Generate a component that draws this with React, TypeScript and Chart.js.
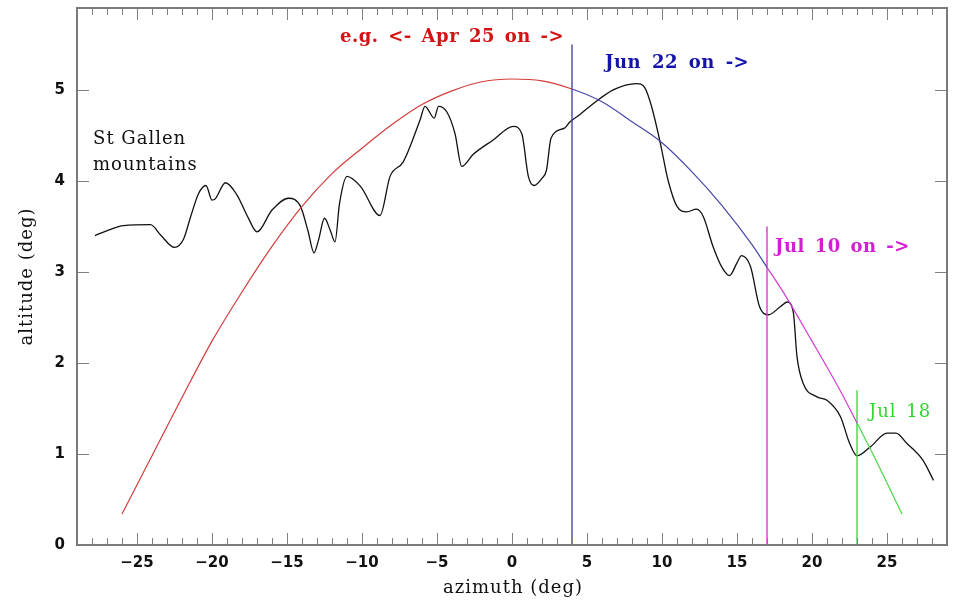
import React, { useEffect, useRef } from 'react';
import { Chart, registerables } from 'chart.js';

Chart.register(...registerables);

// Mountain horizon profile (azimuth deg, altitude deg)
const MOUNTAIN_AZ = [
  -27.8, -26.9, -25.9, -24.1, -23.4, -22.5, -21.9, -21.4, -20.9, -20.4, -20.0, -19.8, -19.1,
  -18.35, -17.6, -17.0, -16.0, -14.9, -14.1, -13.6, -13.2, -12.9, -12.5, -12.1, -11.8, -11.5,
  -11.0, -10.1, -8.8, -8.13, -7.25, -6.13, -5.8, -5.18, -4.9, -4.35, -3.8, -3.35, -2.6, -1.25,
  0.09, 0.65, 1.09, 1.47, 2.0, 2.3, 2.6, 3.5, 3.87, 4.53, 5.2, 6.75, 8.3, 8.87, 9.3, 9.87, 10.4,
  11.0, 11.65, 12.3, 12.75, 13.4, 14.0, 14.5, 15.0, 15.3, 15.9, 16.5, 17.1, 17.9, 18.35, 18.75,
  19.0, 19.4, 20.3, 21.0, 21.9, 22.5, 23.0, 23.9, 25.0, 25.6, 26.3, 27.4, 28.1,
];
const MOUNTAIN_ALT = [
  3.40, 3.46, 3.51, 3.52, 3.40, 3.27, 3.36, 3.62, 3.86, 3.95, 3.79, 3.80, 3.98,
  3.85, 3.60, 3.44, 3.68, 3.81, 3.72, 3.45, 3.21, 3.35, 3.59, 3.45, 3.33, 3.75,
  4.05, 3.94, 3.62, 4.05, 4.21, 4.67, 4.82, 4.69, 4.82, 4.76, 4.52, 4.16, 4.29, 4.45,
  4.60, 4.52, 4.05, 3.95, 4.03, 4.12, 4.47, 4.58, 4.65, 4.73, 4.82, 5.00, 5.07, 5.02, 4.82, 4.43, 4.01,
  3.72, 3.66, 3.69, 3.61, 3.28, 3.05, 2.96, 3.10, 3.18, 3.06, 2.62, 2.53, 2.62, 2.67, 2.56,
  2.07, 1.78, 1.63, 1.59, 1.41, 1.12, 0.98, 1.08, 1.23, 1.23, 1.12, 0.93, 0.71,
];

// Sun path (azimuth deg, altitude deg)
const SUN_AZ = [-26, -24, -22, -20, -18, -16, -14, -12, -10, -8, -6, -4, -2, 0, 2, 4, 6, 8, 10, 12, 14, 16, 17, 18, 20, 22, 23, 24, 26];
const SUN_ALT = [0.34, 0.98, 1.62, 2.24, 2.78, 3.28, 3.72, 4.08, 4.36, 4.62, 4.84, 4.99, 5.09, 5.12, 5.10, 5.01, 4.87, 4.65, 4.42, 4.10, 3.73, 3.30, 3.05, 2.80, 2.24, 1.66, 1.34, 1.02, 0.34];

// Date markers: azimuth where each date's sun path starts, and the top of its marker line
const MARKER_AZ = [4, 17, 23];
const MARKER_TOP = [5.5, 3.5, 1.7];
const MARKER_LABELS = ['Jun 22 on ->', 'Jul 10 on ->', 'Jul 18'];
const FIRST_LABEL = 'e.g. <- Apr 25 on ->';

const X_TICKS = [-25, -20, -15, -10, -5, 0, 5, 10, 15, 20, 25];
const Y_TICKS = [0, 1, 2, 3, 4, 5];

const RED = '#d23c3c';
const BLUE = '#4646a8';
const MAGENTA = '#d03cd0';
const GREEN = '#44d844';

const SERIF = '"DejaVu Serif", serif';

function segColor(x0: number) {
  if (x0 < MARKER_AZ[0]) return RED;
  if (x0 < MARKER_AZ[1]) return BLUE;
  if (x0 < MARKER_AZ[2]) return MAGENTA;
  return GREEN;
}

const framePlugin = {
  id: 'frame',
  afterDraw(chart: any) {
    const { ctx, chartArea: a, scales } = chart;
    const x = scales.x;
    const y = scales.y;
    ctx.save();
    // tick marks (inward, all four sides)
    ctx.strokeStyle = '#808080';
    ctx.lineWidth = 1;
    ctx.beginPath();
    for (let v = Math.ceil(x.min); v <= Math.floor(x.max); v++) {
      const px = Math.round(x.getPixelForValue(v)) + 0.5;
      const len = v % 5 === 0 ? 12 : 7;
      ctx.moveTo(px, a.bottom);
      ctx.lineTo(px, a.bottom - len);
      ctx.moveTo(px, a.top);
      ctx.lineTo(px, a.top + len);
    }
    for (const v of Y_TICKS) {
      const py = Math.round(y.getPixelForValue(v)) + 0.5;
      ctx.moveTo(a.left, py);
      ctx.lineTo(a.left + 12, py);
      ctx.moveTo(a.right, py);
      ctx.lineTo(a.right - 12, py);
    }
    ctx.stroke();
    // frame
    ctx.strokeStyle = '#7a7a7a';
    ctx.lineWidth = 2;
    ctx.strokeRect(a.left, a.top, a.right - a.left, a.bottom - a.top);

    // annotation texts
    const put = (text: string, xv: number, yv: number, color: string, bold: boolean, ws: string) => {
      ctx.font = `${bold ? 'bold ' : ''}18px ${SERIF}`;
      (ctx as any).letterSpacing = bold ? '0.5px' : '1px';
      (ctx as any).wordSpacing = ws;
      ctx.fillStyle = color;
      ctx.textAlign = 'left';
      ctx.textBaseline = 'alphabetic';
      ctx.fillText(text, x.getPixelForValue(xv), y.getPixelForValue(yv));
    };
    put('St Gallen', -27.93, 4.41, '#111', false, '0px');
    put('mountains', -27.93, 4.12, '#111', false, '0px');
    put(FIRST_LABEL, -11.47, 5.53, '#d41414', true, '3px');
    put(MARKER_LABELS[0], 6.2, 5.24, '#1414a8', true, '4px');
    put(MARKER_LABELS[1], 17.53, 3.22, '#d41ed4', true, '3px');
    put(MARKER_LABELS[2], 23.8, 1.41, '#2ed82e', false, '3px');

    // axis titles
    ctx.fillStyle = '#111';
    ctx.font = `18px ${SERIF}`;
    (ctx as any).letterSpacing = '1px';
    (ctx as any).wordSpacing = '0px';
    ctx.textAlign = 'center';
    ctx.textBaseline = 'middle';
    ctx.fillText('azimuth (deg)', (a.left + a.right) / 2 + 1, 588);
    ctx.save();
    ctx.translate(27, (a.top + a.bottom) / 2);
    ctx.rotate(-Math.PI / 2);
    ctx.fillText('altitude (deg)', 0, 0);
    ctx.restore();
    (ctx as any).letterSpacing = '0px';
    ctx.restore();
  },
};

const fmt = (v: number) => (v < 0 ? '\u2212' + Math.abs(v) : String(v));

export default function App() {
  const ref = useRef<HTMLCanvasElement | null>(null);
  useEffect(() => {
    if (!ref.current) return;
    const mountain = MOUNTAIN_AZ.map((az, i) => ({ x: az, y: MOUNTAIN_ALT[i] }));
    const sun = SUN_AZ.map((az, i) => ({ x: az, y: SUN_ALT[i] }));
    const markerColors = [BLUE, MAGENTA, GREEN];
    const markers = MARKER_AZ.map((az, i) => ({
      type: 'line' as const,
      data: [{ x: az, y: 0 }, { x: az, y: MARKER_TOP[i] }],
      borderColor: markerColors[i],
      borderWidth: 1.4,
      pointRadius: 0,
      tension: 0,
    }));
    const chart = new Chart(ref.current, {
      type: 'line',
      data: {
        datasets: [
          {
            data: sun,
            borderColor: RED,
            borderWidth: 1.2,
            pointRadius: 0,
            cubicInterpolationMode: 'monotone',
            segment: { borderColor: (c: any) => segColor(c.p0.parsed.x) },
          } as any,
          ...markers,
          {
            data: mountain,
            borderColor: '#111',
            borderWidth: 1.3,
            pointRadius: 0,
            cubicInterpolationMode: 'monotone',
          } as any,
        ],
      },
      options: {
        animation: false,
        responsive: false,
        devicePixelRatio: 1,
        parsing: false,
        layout: { padding: { top: 8, right: 6, left: 0, bottom: 0 } },
        plugins: { legend: { display: false }, tooltip: { enabled: false } },
        scales: {
          x: {
            type: 'linear',
            min: -29,
            max: 29,
            grid: { display: false, drawTicks: false },
            border: { display: false },
            afterBuildTicks: (s: any) => {
              s.ticks = X_TICKS.map((v) => ({ value: v }));
            },
            afterFit: (s: any) => {
              s.height = 55;
              s.paddingLeft = 0;
              s.paddingRight = 0;
              s.paddingTop = 0;
              s.paddingBottom = 0;
            },
            ticks: {
              padding: 9,
              maxRotation: 0,
              autoSkip: false,
              color: '#111',
              font: { family: '"DejaVu Sans", sans-serif', size: 15, weight: 'bold' },
              callback: (v: any) => fmt(Number(v)),
            },
          },
          y: {
            type: 'linear',
            min: 0,
            max: 5.9,
            grid: { display: false, drawTicks: false },
            border: { display: false },
            afterBuildTicks: (s: any) => {
              s.ticks = Y_TICKS.map((v) => ({ value: v }));
            },
            afterFit: (s: any) => {
              s.width = 77;
              s.paddingLeft = 0;
              s.paddingRight = 0;
              s.paddingTop = 0;
              s.paddingBottom = 0;
            },
            ticks: {
              padding: 12,
              autoSkip: false,
              color: '#111',
              font: { family: '"DejaVu Sans", sans-serif', size: 15, weight: 'bold' },
              callback: (v: any) => fmt(Number(v)),
            },
          },
        },
      } as any,
      plugins: [framePlugin],
    });
    return () => chart.destroy();
  }, []);
  return (
    <div style={{ position: 'absolute', left: 0, top: 0, width: 953, height: 600, background: '#fff' }}>
      <canvas ref={ref} width={953} height={600} style={{ display: 'block' }} />
    </div>
  );
}
